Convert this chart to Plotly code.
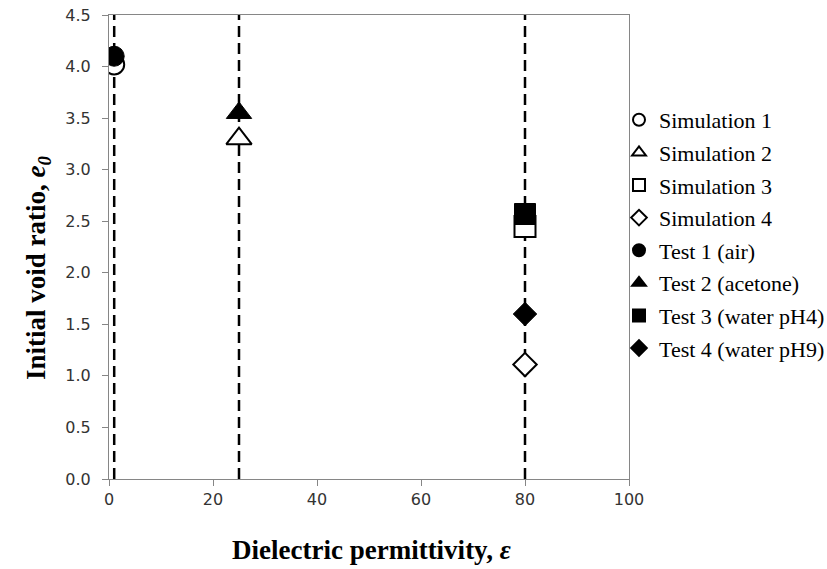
import plotly.graph_objects as go

# Data
sim_names = ["Simulation 1", "Simulation 2", "Simulation 3", "Simulation 4"]
sim_x = [1, 25, 80, 80]
sim_y = [4.02, 3.30, 2.45, 1.11]

test_names = ["Test 1 (air)", "Test 2 (acetone)", "Test 3 (water pH4)", "Test 4 (water pH9)"]
test_x = [1, 25, 80, 80]
test_y = [4.10, 3.55, 2.57, 1.60]

guide_x = [1, 25, 80]
guide_y = [0.0, 4.5]

x_ticks = [0, 20, 40, 60, 80, 100]
y_ticks = [0.0, 0.5, 1.0, 1.5, 2.0, 2.5, 3.0, 3.5, 4.0, 4.5]

symbols = ["circle", "triangle-up", "square", "diamond"]
sizes = [20, 22, 21, 18]

fig = go.Figure()

# Dashed guide lines
for gx in guide_x:
    fig.add_trace(go.Scatter(
        x=[gx, gx], y=guide_y, mode="lines",
        line=dict(color="black", width=2.5, dash="11px,6px"),
        showlegend=False, hoverinfo="skip"))

for i, name in enumerate(sim_names):
    fig.add_trace(go.Scatter(
        x=[sim_x[i]], y=[sim_y[i]], mode="markers", name=name,
        legendgroup=name,
        marker=dict(symbol=symbols[i], size=sizes[i], color="white",
                    line=dict(color="black", width=2))))

for i, name in enumerate(test_names):
    fig.add_trace(go.Scatter(
        x=[test_x[i]], y=[test_y[i]], mode="markers", name=name,
        legendgroup=name,
        marker=dict(symbol=symbols[i], size=sizes[i], color="black",
                    line=dict(color="black", width=1))))

axis_common = dict(
    showgrid=False, zeroline=False, showline=True, mirror=True,
    linecolor="#868686", linewidth=1, ticks="outside", ticklen=6,
    tickcolor="#868686", tickwidth=1,
    tickfont=dict(family="DejaVu Sans", size=16, color="#333333"),
)

L, R, T, B = 109, 198, 15, 90
W, H = 827, 569
plot_w = W - L - R
plot_h = H - T - B

fig.update_layout(
    width=W, height=H,
    margin=dict(l=L, r=R, t=T, b=B, autoexpand=False),
    paper_bgcolor="white", plot_bgcolor="white",
    xaxis=dict(range=[0, 100], tickvals=x_ticks, **axis_common),
    yaxis=dict(range=[0, 4.5], tickvals=y_ticks, tickformat=".1f",
               ticklabelstandoff=8, **axis_common),
    legend=dict(
        x=(619 - L) / plot_w, xanchor="left",
        y=(H - B - 99) / plot_h, yanchor="top",
        font=dict(family="Liberation Serif", size=22, color="black"),
        itemsizing="constant", traceorder="grouped", tracegroupgap=1,
        bgcolor="rgba(0,0,0,0)"),
    annotations=[
        dict(text="<b>Dielectric permittivity, <i>ε</i></b>",
             x=(371 - L) / plot_w, xref="paper", xanchor="center",
             y=(H - B - 550) / plot_h, yref="paper", yanchor="middle",
             showarrow=False,
             font=dict(family="Liberation Serif", size=27, color="black")),
        dict(text="<b>Initial void ratio, <i>e</i><sub><i>0</i></sub></b>",
             x=(38 - L) / plot_w, xref="paper", xanchor="center",
             y=(H - B - 268) / plot_h, yref="paper", yanchor="middle",
             showarrow=False, textangle=-90,
             font=dict(family="Liberation Serif", size=27, color="black")),
    ],
    showlegend=True,
)

fig.write_html("out.html", config={"displayModeBar": False},
               post_script="document.body.style.margin='0';document.body.style.overflow='hidden';")
